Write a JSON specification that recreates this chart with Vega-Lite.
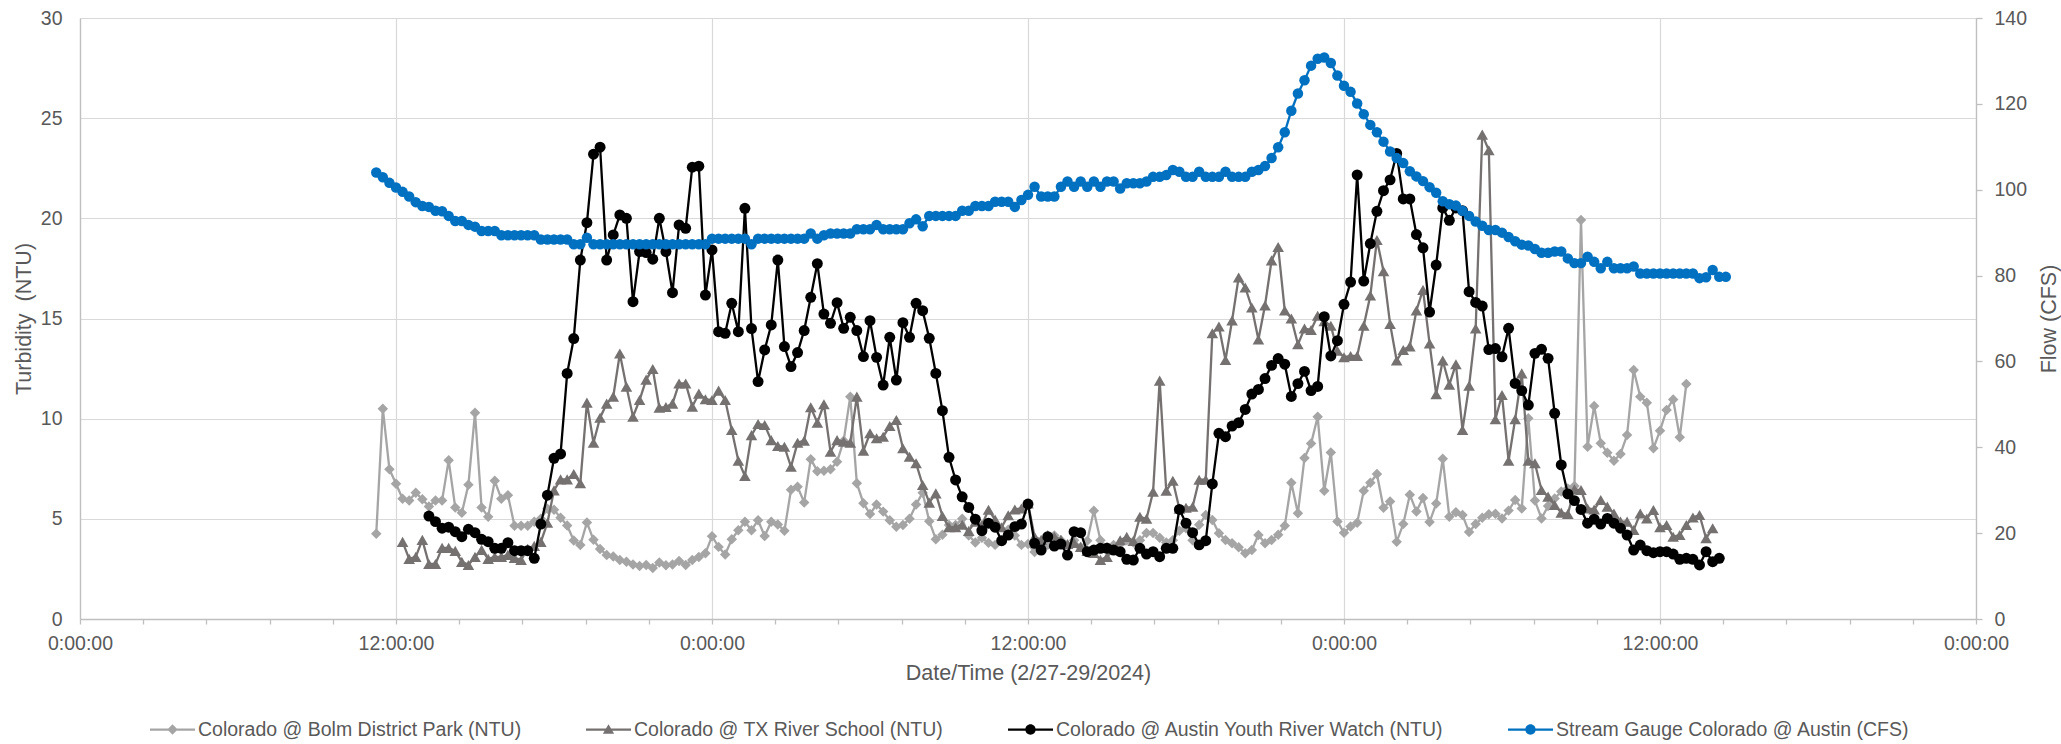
{
"$schema": "https://vega.github.io/schema/vega-lite/v6.json",
"width": 1896,
"height": 601,
"autosize": {"type": "none"},
"padding": {"left": 80, "top": 18, "right": 85, "bottom": 125},
"background": "white",
"config": {
  "view": {"stroke": null},
  "font": "Liberation Sans",
  "axis": {"labelFont": "Liberation Sans", "titleFont": "Liberation Sans", "labelColor": "#595959", "titleColor": "#595959", "labelFontSize": 19.5, "titleFontSize": 21.5, "titleFontWeight": "normal", "domainColor": "#BFBFBF", "tickColor": "#BFBFBF", "gridColor": "#D9D9D9"},
  "legend": {"labelFont": "Liberation Sans", "labelFontSize": 19.5, "labelColor": "#595959", "labelLimit": 800, "symbolSize": 2025, "symbolStrokeWidth": 0, "labelOffset": 3, "columnPadding": 64, "padding": 0, "symbolOpacity": 1}
},
"datasets": {"obs": [
{"time":"2024-02-27T11:15","bolm":4.25,"flow":104},
{"time":"2024-02-27T11:30","bolm":10.5,"flow":102.9},
{"time":"2024-02-27T11:45","bolm":7.48,"flow":101.6},
{"time":"2024-02-27T12:00","bolm":6.75,"flow":100.5},
{"time":"2024-02-27T12:15","bolm":6.0,"tx":3.85,"flow":99.5},
{"time":"2024-02-27T12:30","bolm":5.92,"tx":3.0,"flow":98.4},
{"time":"2024-02-27T12:45","bolm":6.3,"tx":3.1,"flow":97.1},
{"time":"2024-02-27T13:00","bolm":5.98,"tx":3.95,"flow":96.2},
{"time":"2024-02-27T13:15","bolm":5.62,"tx":2.75,"ayrw":5.14,"flow":96.0},
{"time":"2024-02-27T13:30","bolm":5.92,"tx":2.75,"ayrw":4.86,"flow":95.1},
{"time":"2024-02-27T13:45","bolm":5.92,"tx":3.55,"ayrw":4.53,"flow":95.0},
{"time":"2024-02-27T14:00","bolm":7.92,"tx":3.55,"ayrw":4.58,"flow":93.9},
{"time":"2024-02-27T14:15","bolm":5.57,"tx":3.4,"ayrw":4.36,"flow":92.7},
{"time":"2024-02-27T14:30","bolm":5.3,"tx":2.85,"ayrw":4.11,"flow":92.7},
{"time":"2024-02-27T14:45","bolm":6.7,"tx":2.7,"ayrw":4.48,"flow":91.8},
{"time":"2024-02-27T15:00","bolm":10.3,"tx":3.1,"ayrw":4.31,"flow":91.4},
{"time":"2024-02-27T15:15","bolm":5.57,"tx":3.45,"ayrw":3.98,"flow":90.4},
{"time":"2024-02-27T15:30","bolm":5.1,"tx":3.0,"ayrw":3.86,"flow":90.4},
{"time":"2024-02-27T15:45","bolm":6.9,"tx":3.1,"ayrw":3.53,"flow":90.4},
{"time":"2024-02-27T16:00","bolm":6.0,"tx":3.1,"ayrw":3.53,"flow":89.4},
{"time":"2024-02-27T16:15","bolm":6.18,"tx":3.2,"ayrw":3.81,"flow":89.4},
{"time":"2024-02-27T16:30","bolm":4.65,"tx":3.05,"ayrw":3.41,"flow":89.4},
{"time":"2024-02-27T16:45","bolm":4.65,"tx":2.95,"ayrw":3.41,"flow":89.4},
{"time":"2024-02-27T17:00","bolm":4.65,"tx":3.5,"ayrw":3.41,"flow":89.4},
{"time":"2024-02-27T17:15","bolm":4.86,"tx":3.65,"ayrw":3.03,"flow":89.4},
{"time":"2024-02-27T17:30","bolm":5.0,"tx":3.85,"ayrw":4.74,"flow":88.4},
{"time":"2024-02-27T17:45","bolm":5.5,"tx":4.8,"ayrw":6.18,"flow":88.4},
{"time":"2024-02-27T18:00","bolm":5.45,"tx":6.42,"ayrw":8.02,"flow":88.4},
{"time":"2024-02-27T18:15","bolm":5.05,"tx":6.97,"ayrw":8.24,"flow":88.4},
{"time":"2024-02-27T18:30","bolm":4.67,"tx":6.97,"ayrw":12.26,"flow":88.4},
{"time":"2024-02-27T18:45","bolm":3.92,"tx":7.24,"ayrw":14.0,"flow":87.3},
{"time":"2024-02-27T19:00","bolm":3.69,"tx":6.78,"ayrw":17.92,"flow":87.3},
{"time":"2024-02-27T19:15","bolm":4.82,"tx":10.8,"ayrw":19.78,"flow":88.8},
{"time":"2024-02-27T19:30","bolm":3.95,"tx":8.8,"ayrw":23.2,"flow":87.3},
{"time":"2024-02-27T19:45","bolm":3.5,"tx":10.05,"ayrw":23.55,"flow":87.3},
{"time":"2024-02-27T20:00","bolm":3.2,"tx":10.75,"ayrw":17.92,"flow":87.3},
{"time":"2024-02-27T20:15","bolm":3.12,"tx":11.1,"ayrw":19.17,"flow":87.3},
{"time":"2024-02-27T20:30","bolm":2.95,"tx":13.25,"ayrw":20.17,"flow":87.3},
{"time":"2024-02-27T20:45","bolm":2.86,"tx":11.6,"ayrw":20.0,"flow":87.3},
{"time":"2024-02-27T21:00","bolm":2.72,"tx":10.1,"ayrw":15.84,"flow":87.3},
{"time":"2024-02-27T21:15","bolm":2.65,"tx":10.93,"ayrw":18.34,"flow":87.3},
{"time":"2024-02-27T21:30","bolm":2.7,"tx":11.95,"ayrw":18.29,"flow":87.3},
{"time":"2024-02-27T21:45","bolm":2.55,"tx":12.48,"ayrw":17.96,"flow":87.3},
{"time":"2024-02-27T22:00","bolm":2.82,"tx":10.55,"ayrw":20.0,"flow":87.3},
{"time":"2024-02-27T22:15","bolm":2.68,"tx":10.58,"ayrw":18.34,"flow":87.3},
{"time":"2024-02-27T22:30","bolm":2.72,"tx":10.75,"ayrw":16.29,"flow":87.3},
{"time":"2024-02-27T22:45","bolm":2.9,"tx":11.76,"ayrw":19.67,"flow":87.3},
{"time":"2024-02-27T23:00","bolm":2.7,"tx":11.76,"ayrw":19.5,"flow":87.3},
{"time":"2024-02-27T23:15","bolm":2.95,"tx":10.6,"ayrw":22.55,"flow":87.3},
{"time":"2024-02-27T23:30","bolm":3.1,"tx":11.25,"ayrw":22.6,"flow":87.3},
{"time":"2024-02-27T23:45","bolm":3.28,"tx":10.97,"ayrw":16.17,"flow":87.3},
{"time":"2024-02-28T00:00","bolm":4.13,"tx":10.93,"ayrw":18.42,"flow":88.6},
{"time":"2024-02-28T00:15","bolm":3.6,"tx":11.4,"ayrw":14.34,"flow":88.6},
{"time":"2024-02-28T00:30","bolm":3.22,"tx":10.93,"ayrw":14.26,"flow":88.6},
{"time":"2024-02-28T00:45","bolm":3.98,"tx":9.43,"ayrw":15.76,"flow":88.6},
{"time":"2024-02-28T01:00","bolm":4.43,"tx":7.9,"ayrw":14.34,"flow":88.6},
{"time":"2024-02-28T01:15","bolm":4.85,"tx":7.14,"ayrw":20.5,"flow":88.6},
{"time":"2024-02-28T01:30","bolm":4.43,"tx":9.18,"ayrw":14.5,"flow":87.3},
{"time":"2024-02-28T01:45","bolm":4.93,"tx":9.73,"ayrw":11.85,"flow":88.6},
{"time":"2024-02-28T02:00","bolm":4.14,"tx":9.68,"ayrw":13.43,"flow":88.6},
{"time":"2024-02-28T02:15","bolm":4.85,"tx":8.93,"ayrw":14.68,"flow":88.6},
{"time":"2024-02-28T02:30","bolm":4.72,"tx":8.64,"ayrw":17.92,"flow":88.6},
{"time":"2024-02-28T02:45","bolm":4.4,"tx":8.6,"ayrw":13.6,"flow":88.6},
{"time":"2024-02-28T03:00","bolm":6.45,"tx":7.6,"ayrw":12.6,"flow":88.6},
{"time":"2024-02-28T03:15","bolm":6.6,"tx":8.8,"ayrw":13.3,"flow":88.6},
{"time":"2024-02-28T03:30","bolm":5.82,"tx":8.9,"ayrw":14.4,"flow":88.6},
{"time":"2024-02-28T03:45","bolm":7.98,"tx":10.57,"ayrw":16.06,"flow":89.8},
{"time":"2024-02-28T04:00","bolm":7.38,"tx":9.8,"ayrw":17.74,"flow":88.6},
{"time":"2024-02-28T04:15","bolm":7.4,"tx":10.72,"ayrw":15.22,"flow":89.4},
{"time":"2024-02-28T04:30","bolm":7.47,"tx":8.35,"ayrw":14.76,"flow":89.8},
{"time":"2024-02-28T04:45","bolm":7.85,"tx":8.93,"ayrw":15.79,"flow":89.8},
{"time":"2024-02-28T05:00","bolm":8.9,"tx":8.85,"ayrw":14.51,"flow":89.8},
{"time":"2024-02-28T05:15","bolm":11.1,"tx":8.8,"ayrw":15.06,"flow":89.8},
{"time":"2024-02-28T05:30","bolm":6.78,"tx":11.1,"ayrw":14.4,"flow":90.8},
{"time":"2024-02-28T05:45","bolm":5.78,"tx":8.4,"ayrw":13.1,"flow":90.8},
{"time":"2024-02-28T06:00","bolm":5.24,"tx":9.27,"ayrw":14.89,"flow":90.8},
{"time":"2024-02-28T06:15","bolm":5.71,"tx":9.02,"ayrw":13.06,"flow":91.8},
{"time":"2024-02-28T06:30","bolm":5.36,"tx":9.1,"ayrw":11.68,"flow":90.8},
{"time":"2024-02-28T06:45","bolm":4.93,"tx":9.63,"ayrw":14.06,"flow":90.8},
{"time":"2024-02-28T07:00","bolm":4.6,"tx":9.93,"ayrw":11.93,"flow":90.8},
{"time":"2024-02-28T07:15","bolm":4.69,"tx":8.52,"ayrw":14.79,"flow":90.8},
{"time":"2024-02-28T07:30","bolm":5.0,"tx":8.1,"ayrw":14.06,"flow":92.2},
{"time":"2024-02-28T07:45","bolm":5.71,"tx":7.77,"ayrw":15.76,"flow":93.1},
{"time":"2024-02-28T08:00","bolm":6.3,"tx":6.69,"ayrw":15.39,"flow":91.5},
{"time":"2024-02-28T08:15","bolm":4.88,"tx":5.81,"ayrw":14.01,"flow":93.9},
{"time":"2024-02-28T08:30","bolm":3.98,"tx":6.27,"ayrw":12.26,"flow":93.9},
{"time":"2024-02-28T08:45","bolm":4.2,"tx":5.14,"ayrw":10.4,"flow":93.9},
{"time":"2024-02-28T09:00","bolm":4.69,"tx":4.58,"ayrw":8.07,"flow":93.9},
{"time":"2024-02-28T09:15","bolm":4.69,"tx":4.58,"ayrw":6.94,"flow":93.9},
{"time":"2024-02-28T09:30","bolm":5.0,"tx":4.7,"ayrw":6.1,"flow":95.1},
{"time":"2024-02-28T09:45","bolm":4.17,"tx":4.4,"ayrw":5.57,"flow":95.1},
{"time":"2024-02-28T10:00","bolm":3.82,"tx":4.86,"ayrw":4.98,"flow":96.2},
{"time":"2024-02-28T10:15","bolm":4.05,"tx":4.7,"ayrw":4.41,"flow":96.2},
{"time":"2024-02-28T10:30","bolm":3.8,"tx":5.45,"ayrw":4.78,"flow":96.2},
{"time":"2024-02-28T10:45","bolm":3.7,"tx":4.97,"ayrw":4.58,"flow":97.2},
{"time":"2024-02-28T11:00","bolm":3.9,"tx":4.58,"ayrw":3.91,"flow":97.2},
{"time":"2024-02-28T11:15","bolm":4.45,"tx":5.18,"ayrw":4.19,"flow":97.2},
{"time":"2024-02-28T11:30","bolm":4.17,"tx":5.47,"ayrw":4.61,"flow":96.0},
{"time":"2024-02-28T11:45","bolm":3.7,"tx":5.52,"ayrw":4.74,"flow":97.6},
{"time":"2024-02-28T12:00","bolm":3.74,"tx":5.77,"ayrw":5.74,"flow":98.8},
{"time":"2024-02-28T12:15","bolm":3.34,"tx":4.11,"ayrw":3.78,"flow":100.7},
{"time":"2024-02-28T12:30","bolm":3.7,"tx":3.95,"ayrw":3.44,"flow":98.4},
{"time":"2024-02-28T12:45","bolm":3.7,"tx":4.19,"ayrw":4.11,"flow":98.4},
{"time":"2024-02-28T13:00","bolm":4.17,"tx":4.11,"ayrw":3.64,"flow":98.4},
{"time":"2024-02-28T13:15","bolm":3.93,"tx":3.95,"ayrw":3.74,"flow":100.7},
{"time":"2024-02-28T13:30","bolm":3.7,"tx":3.74,"ayrw":3.19,"flow":101.9},
{"time":"2024-02-28T13:45","bolm":3.93,"tx":3.8,"ayrw":4.36,"flow":100.7},
{"time":"2024-02-28T14:00","bolm":3.58,"tx":3.6,"ayrw":4.31,"flow":101.9},
{"time":"2024-02-28T14:15","bolm":3.9,"tx":3.4,"ayrw":3.36,"flow":100.7},
{"time":"2024-02-28T14:30","bolm":5.4,"tx":3.3,"ayrw":3.44,"flow":101.9},
{"time":"2024-02-28T14:45","bolm":3.93,"tx":2.95,"ayrw":3.53,"flow":100.7},
{"time":"2024-02-28T15:00","bolm":3.58,"tx":3.1,"ayrw":3.53,"flow":101.9},
{"time":"2024-02-28T15:15","bolm":3.7,"tx":3.46,"ayrw":3.44,"flow":101.9},
{"time":"2024-02-28T15:30","bolm":3.74,"tx":3.93,"ayrw":3.36,"flow":100.3},
{"time":"2024-02-28T15:45","bolm":3.93,"tx":4.1,"ayrw":2.98,"flow":101.5},
{"time":"2024-02-28T16:00","bolm":3.82,"tx":3.9,"ayrw":2.94,"flow":101.5},
{"time":"2024-02-28T16:15","bolm":3.93,"tx":5.1,"ayrw":3.53,"flow":101.5},
{"time":"2024-02-28T16:30","bolm":4.29,"tx":5.0,"ayrw":3.24,"flow":101.9},
{"time":"2024-02-28T16:45","bolm":4.29,"tx":6.35,"ayrw":3.36,"flow":103.0},
{"time":"2024-02-28T17:00","bolm":4.05,"tx":11.9,"ayrw":3.11,"flow":103.0},
{"time":"2024-02-28T17:15","bolm":3.82,"tx":6.4,"ayrw":3.53,"flow":103.4},
{"time":"2024-02-28T17:30","bolm":3.93,"tx":6.9,"ayrw":3.53,"flow":104.6},
{"time":"2024-02-28T17:45","bolm":4.41,"tx":5.5,"ayrw":5.47,"flow":104.2},
{"time":"2024-02-28T18:00","bolm":4.53,"tx":5.55,"ayrw":4.78,"flow":103.0},
{"time":"2024-02-28T18:15","bolm":3.93,"tx":5.6,"ayrw":4.31,"flow":103.0},
{"time":"2024-02-28T18:30","bolm":4.7,"tx":6.95,"ayrw":3.7,"flow":104.2},
{"time":"2024-02-28T18:45","bolm":5.19,"tx":6.95,"ayrw":3.91,"flow":103.0},
{"time":"2024-02-28T19:00","bolm":4.94,"tx":14.26,"ayrw":6.74,"flow":103.0},
{"time":"2024-02-28T19:15","bolm":4.28,"tx":14.6,"ayrw":9.27,"flow":103.0},
{"time":"2024-02-28T19:30","bolm":3.94,"tx":12.93,"ayrw":9.1,"flow":104.2},
{"time":"2024-02-28T19:45","bolm":3.78,"tx":14.9,"ayrw":9.63,"flow":103.0},
{"time":"2024-02-28T20:00","bolm":3.58,"tx":17.05,"ayrw":9.8,"flow":103.0},
{"time":"2024-02-28T20:15","bolm":3.28,"tx":16.55,"ayrw":10.46,"flow":103.0},
{"time":"2024-02-28T20:30","bolm":3.44,"tx":15.55,"ayrw":11.23,"flow":104.2},
{"time":"2024-02-28T20:45","bolm":4.19,"tx":13.95,"ayrw":11.46,"flow":104.6},
{"time":"2024-02-28T21:00","bolm":3.78,"tx":15.65,"ayrw":12.0,"flow":105.5},
{"time":"2024-02-28T21:15","bolm":3.94,"tx":17.9,"ayrw":12.66,"flow":107.4},
{"time":"2024-02-28T21:30","bolm":4.21,"tx":18.57,"ayrw":13.0,"flow":109.9},
{"time":"2024-02-28T21:45","bolm":4.65,"tx":15.4,"ayrw":12.72,"flow":113.4},
{"time":"2024-02-28T22:00","bolm":6.8,"tx":15.0,"ayrw":11.11,"flow":118.4},
{"time":"2024-02-28T22:15","bolm":5.28,"tx":13.71,"ayrw":11.75,"flow":122.4},
{"time":"2024-02-28T22:30","bolm":8.04,"tx":14.5,"ayrw":12.36,"flow":125.5},
{"time":"2024-02-28T22:45","bolm":8.76,"tx":14.43,"ayrw":11.4,"flow":128.9},
{"time":"2024-02-28T23:00","bolm":10.1,"tx":15.14,"ayrw":11.61,"flow":130.5},
{"time":"2024-02-28T23:15","bolm":6.4,"tx":14.86,"ayrw":15.09,"flow":130.8},
{"time":"2024-02-28T23:30","bolm":8.31,"tx":14.64,"ayrw":13.13,"flow":129.5},
{"time":"2024-02-28T23:45","bolm":4.87,"tx":13.39,"ayrw":13.89,"flow":126.6},
{"time":"2024-02-29T00:00","bolm":4.3,"tx":13.07,"ayrw":15.71,"flow":124.2},
{"time":"2024-02-29T00:15","bolm":4.62,"tx":13.13,"ayrw":16.82,"flow":122.8},
{"time":"2024-02-29T00:30","bolm":4.8,"tx":13.13,"ayrw":22.17,"flow":120.1},
{"time":"2024-02-29T00:45","bolm":6.4,"tx":14.64,"ayrw":16.87,"flow":117.6},
{"time":"2024-02-29T01:00","bolm":6.8,"tx":16.15,"ayrw":18.74,"flow":115.1},
{"time":"2024-02-29T01:15","bolm":7.24,"tx":18.92,"ayrw":20.35,"flow":113.4},
{"time":"2024-02-29T01:30","bolm":5.55,"tx":17.36,"ayrw":21.38,"flow":111.2},
{"time":"2024-02-29T01:45","bolm":5.87,"tx":14.73,"ayrw":21.92,"flow":108.9},
{"time":"2024-02-29T02:00","bolm":3.85,"tx":12.9,"ayrw":23.24,"flow":107.4},
{"time":"2024-02-29T02:15","bolm":4.74,"tx":13.43,"ayrw":20.97,"flow":106.2},
{"time":"2024-02-29T02:30","bolm":6.2,"tx":13.61,"ayrw":20.97,"flow":104.3},
{"time":"2024-02-29T02:45","bolm":5.37,"tx":15.4,"ayrw":19.19,"flow":103.1},
{"time":"2024-02-29T03:00","bolm":6.04,"tx":16.43,"ayrw":18.53,"flow":102.0},
{"time":"2024-02-29T03:15","bolm":4.84,"tx":13.75,"ayrw":15.32,"flow":100.6},
{"time":"2024-02-29T03:30","bolm":5.76,"tx":11.22,"ayrw":17.67,"flow":99.3},
{"time":"2024-02-29T03:45","bolm":8.0,"tx":12.9,"ayrw":20.52,"flow":97.3},
{"time":"2024-02-29T04:00","bolm":5.1,"tx":11.7,"ayrw":19.9,"flow":96.6},
{"time":"2024-02-29T04:15","bolm":5.33,"tx":12.72,"ayrw":20.52,"flow":96.3},
{"time":"2024-02-29T04:30","bolm":5.19,"tx":9.44,"ayrw":20.38,"flow":95.1},
{"time":"2024-02-29T04:45","bolm":4.34,"tx":11.64,"ayrw":16.34,"flow":93.9},
{"time":"2024-02-29T05:00","bolm":4.74,"tx":14.5,"ayrw":15.8,"flow":92.6},
{"time":"2024-02-29T05:15","bolm":5.05,"tx":24.18,"ayrw":15.62,"flow":91.6},
{"time":"2024-02-29T05:30","bolm":5.23,"tx":23.4,"ayrw":13.45,"flow":90.6},
{"time":"2024-02-29T05:45","bolm":5.25,"tx":9.97,"ayrw":13.5,"flow":90.6},
{"time":"2024-02-29T06:00","bolm":5.02,"tx":11.18,"ayrw":13.09,"flow":90.0},
{"time":"2024-02-29T06:15","bolm":5.41,"tx":7.9,"ayrw":14.51,"flow":89.0},
{"time":"2024-02-29T06:30","bolm":5.94,"tx":9.97,"ayrw":11.76,"flow":88.0},
{"time":"2024-02-29T06:45","bolm":5.52,"tx":12.26,"ayrw":11.4,"flow":87.2},
{"time":"2024-02-29T07:00","bolm":10.02,"tx":7.9,"ayrw":10.68,"flow":87.0},
{"time":"2024-02-29T07:15","bolm":5.91,"tx":7.77,"ayrw":13.26,"flow":86.2},
{"time":"2024-02-29T07:30","bolm":5.02,"tx":6.44,"ayrw":13.46,"flow":85.3},
{"time":"2024-02-29T07:45","bolm":5.64,"tx":6.11,"ayrw":13.01,"flow":85.3},
{"time":"2024-02-29T08:00","bolm":6.02,"tx":5.69,"ayrw":10.27,"flow":85.6},
{"time":"2024-02-29T08:15","bolm":6.36,"tx":5.31,"ayrw":7.69,"flow":85.6},
{"time":"2024-02-29T08:30","bolm":6.52,"tx":5.24,"ayrw":6.24,"flow":84.0},
{"time":"2024-02-29T08:45","bolm":6.64,"tx":6.47,"ayrw":5.91,"flow":82.9},
{"time":"2024-02-29T09:00","bolm":19.92,"tx":6.44,"ayrw":5.47,"flow":82.9},
{"time":"2024-02-29T09:15","bolm":8.6,"tx":5.52,"ayrw":4.78,"flow":84.4},
{"time":"2024-02-29T09:30","bolm":10.63,"tx":5.47,"ayrw":4.98,"flow":83.2},
{"time":"2024-02-29T09:45","bolm":8.77,"tx":5.94,"ayrw":4.74,"flow":81.7},
{"time":"2024-02-29T10:00","bolm":8.3,"tx":5.61,"ayrw":5.02,"flow":83.2},
{"time":"2024-02-29T10:15","bolm":7.9,"tx":5.27,"ayrw":4.78,"flow":81.7},
{"time":"2024-02-29T10:30","bolm":8.24,"tx":4.86,"ayrw":4.53,"flow":81.7},
{"time":"2024-02-29T10:45","bolm":9.18,"tx":4.86,"ayrw":4.19,"flow":81.7},
{"time":"2024-02-29T11:00","bolm":12.43,"tx":4.44,"ayrw":3.44,"flow":82.1},
{"time":"2024-02-29T11:15","bolm":11.1,"tx":5.27,"ayrw":3.69,"flow":80.5},
{"time":"2024-02-29T11:30","bolm":10.8,"tx":5.02,"ayrw":3.41,"flow":80.5},
{"time":"2024-02-29T11:45","bolm":8.52,"tx":5.44,"ayrw":3.31,"flow":80.5},
{"time":"2024-02-29T12:00","bolm":9.4,"tx":4.58,"ayrw":3.36,"flow":80.5},
{"time":"2024-02-29T12:15","bolm":10.43,"tx":4.69,"ayrw":3.36,"flow":80.5},
{"time":"2024-02-29T12:30","bolm":10.96,"tx":4.11,"ayrw":3.24,"flow":80.5},
{"time":"2024-02-29T12:45","bolm":9.07,"tx":4.19,"ayrw":2.98,"flow":80.5},
{"time":"2024-02-29T13:00","bolm":11.73,"tx":4.69,"ayrw":3.03,"flow":80.5},
{"time":"2024-02-29T13:15","tx":5.07,"ayrw":2.98,"flow":80.5},
{"time":"2024-02-29T13:30","tx":5.19,"ayrw":2.7,"flow":79.4},
{"time":"2024-02-29T13:45","tx":4.03,"ayrw":3.36,"flow":79.6},
{"time":"2024-02-29T14:00","tx":4.53,"ayrw":2.86,"flow":81.3},
{"time":"2024-02-29T14:15","ayrw":3.03,"flow":79.7},
{"time":"2024-02-29T14:30","flow":79.7}
]},
"layer": [
{
  "data": {"name": "obs"},
  "mark": {"type": "line", "color": "#A5A5A5", "strokeWidth": 2.3, "point": {"shape": "diamond", "size": 110, "filled": true, "color": "#A5A5A5"}},
  "encoding": {
    "x": {"field": "time", "type": "temporal",
      "scale": {"domain": [{"year": 2024, "month": 2, "date": 27}, {"year": 2024, "month": 3, "date": 1}], "nice": false},
      "axis": {
        "values": [
          {"year":2024,"month":2,"date":27,"hours":0,"minutes":0},{"year":2024,"month":2,"date":27,"hours":2,"minutes":24},{"year":2024,"month":2,"date":27,"hours":4,"minutes":48},{"year":2024,"month":2,"date":27,"hours":7,"minutes":12},{"year":2024,"month":2,"date":27,"hours":9,"minutes":36},
          {"year":2024,"month":2,"date":27,"hours":12,"minutes":0},{"year":2024,"month":2,"date":27,"hours":14,"minutes":24},{"year":2024,"month":2,"date":27,"hours":16,"minutes":48},{"year":2024,"month":2,"date":27,"hours":19,"minutes":12},{"year":2024,"month":2,"date":27,"hours":21,"minutes":36},
          {"year":2024,"month":2,"date":28,"hours":0,"minutes":0},{"year":2024,"month":2,"date":28,"hours":2,"minutes":24},{"year":2024,"month":2,"date":28,"hours":4,"minutes":48},{"year":2024,"month":2,"date":28,"hours":7,"minutes":12},{"year":2024,"month":2,"date":28,"hours":9,"minutes":36},
          {"year":2024,"month":2,"date":28,"hours":12,"minutes":0},{"year":2024,"month":2,"date":28,"hours":14,"minutes":24},{"year":2024,"month":2,"date":28,"hours":16,"minutes":48},{"year":2024,"month":2,"date":28,"hours":19,"minutes":12},{"year":2024,"month":2,"date":28,"hours":21,"minutes":36},
          {"year":2024,"month":2,"date":29,"hours":0,"minutes":0},{"year":2024,"month":2,"date":29,"hours":2,"minutes":24},{"year":2024,"month":2,"date":29,"hours":4,"minutes":48},{"year":2024,"month":2,"date":29,"hours":7,"minutes":12},{"year":2024,"month":2,"date":29,"hours":9,"minutes":36},
          {"year":2024,"month":2,"date":29,"hours":12,"minutes":0},{"year":2024,"month":2,"date":29,"hours":14,"minutes":24},{"year":2024,"month":2,"date":29,"hours":16,"minutes":48},{"year":2024,"month":2,"date":29,"hours":19,"minutes":12},{"year":2024,"month":2,"date":29,"hours":21,"minutes":36},
          {"year":2024,"month":3,"date":1,"hours":0,"minutes":0}
        ],
        "labelExpr": "(hours(datum.value) % 12 === 0 && minutes(datum.value) === 0) ? timeFormat(datum.value, '%-H:%M:%S') : ''",
        "labelFlush": false,
        "labelOverlap": false,
        "labelPadding": 10,
        "tickSize": 5,
        "tickWidth": 1.3,
        "domainWidth": 1.3,
        "grid": true,
        "gridWidth": 1.2,
        "gridOpacity": {"condition": {"test": "hours(datum.value) % 12 === 0 && minutes(datum.value) === 0", "value": 1}, "value": 0},
        "title": "Date/Time (2/27-29/2024)",
        "titlePadding": 10
      }
    },
    "y": {"field": "bolm", "type": "quantitative",
      "scale": {"domain": [0, 30], "nice": false},
      "axis": {"values": [0, 5, 10, 15, 20, 25, 30], "grid": true, "gridWidth": 1.2, "domainWidth": 1.3, "ticks": false, "tickSize": 0, "labelPadding": 18, "title": "Turbidity\u00a0 (NTU)", "titlePadding": 5}
    }
  }
},
{
  "data": {"name": "obs"},
  "mark": {"type": "line", "color": "#767171", "strokeWidth": 2.3, "point": {"shape": "triangle-up", "size": 135, "filled": true, "color": "#767171"}},
  "encoding": {
    "x": {"field": "time", "type": "temporal"},
    "y": {"field": "tx", "type": "quantitative", "scale": {"domain": [0, 30], "nice": false}, "axis": null}
  }
},
{
  "data": {"name": "obs"},
  "mark": {"type": "line", "color": "#000000", "strokeWidth": 2.3, "point": {"shape": "circle", "size": 120, "filled": true, "color": "#000000"}},
  "encoding": {
    "x": {"field": "time", "type": "temporal"},
    "y": {"field": "ayrw", "type": "quantitative", "scale": {"domain": [0, 30], "nice": false}, "axis": null}
  }
},
{
  "data": {"name": "obs"},
  "mark": {"type": "line", "color": "#0070C0", "strokeWidth": 2.3, "point": {"shape": "circle", "size": 110, "filled": true, "color": "#0070C0"}},
  "encoding": {
    "x": {"field": "time", "type": "temporal"},
    "y": {"field": "flow", "type": "quantitative", "scale": {"domain": [0, 140], "nice": false},
      "axis": {"orient": "right", "values": [0, 20, 40, 60, 80, 100, 120, 140], "grid": false, "tickSize": 6, "tickWidth": 1.3, "domainWidth": 1.3, "labelPadding": 12, "title": "Flow (CFS)", "titleAngle": -90, "titleBaseline": "top", "titlePadding": 12}
    }
  }
},
{
  "data": {"values": [
    {"series": "Colorado @ Bolm District Park (NTU)"},
    {"series": "Colorado @ TX River School (NTU)"},
    {"series": "Colorado @ Austin Youth River Watch (NTU)"},
    {"series": "Stream Gauge Colorado @ Austin (CFS)"}
  ]},
  "mark": {"type": "point", "filled": true, "opacity": 0},
  "encoding": {
    "color": {"field": "series", "type": "nominal",
      "scale": {"domain": ["Colorado @ Bolm District Park (NTU)", "Colorado @ TX River School (NTU)", "Colorado @ Austin Youth River Watch (NTU)", "Stream Gauge Colorado @ Austin (CFS)"], "range": ["#A5A5A5", "#767171", "#000000", "#0070C0"]},
      "legend": {"title": null, "orient": "none", "legendX": 70, "legendY": 689, "direction": "horizontal"}
    },
    "shape": {"field": "series", "type": "nominal",
      "scale": {"domain": ["Colorado @ Bolm District Park (NTU)", "Colorado @ TX River School (NTU)", "Colorado @ Austin Youth River Watch (NTU)", "Stream Gauge Colorado @ Austin (CFS)"],
        "range": [
          "M-1,-0.05L1,-0.05L1,0.05L-1,0.05Z M0,-0.23L0.23,0L0,0.23L-0.23,0Z",
          "M-1,-0.05L1,-0.05L1,0.05L-1,0.05Z M0,-0.23L0.25,0.19L-0.25,0.19Z",
          "M-1,-0.05L1,-0.05L1,0.05L-1,0.05Z M-0.23,0A0.23,0.23 0 1,1 0.23,0A0.23,0.23 0 1,1 -0.23,0Z",
          "M-1,-0.05L1,-0.05L1,0.05L-1,0.05Z M-0.23,0A0.23,0.23 0 1,1 0.23,0A0.23,0.23 0 1,1 -0.23,0Z"
        ]},
      "legend": {"title": null, "orient": "none", "legendX": 70, "legendY": 689, "direction": "horizontal"}
    }
  }
}
],
"resolve": {"scale": {"y": "independent"}}
}
